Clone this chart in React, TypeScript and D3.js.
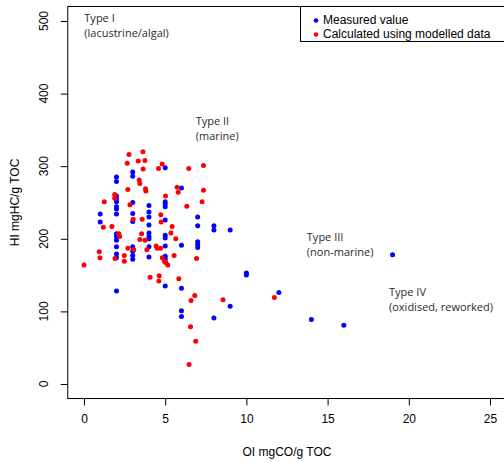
import React, { useEffect, useRef } from 'react';
import * as d3 from 'd3';

// Measured values: [OI, HI]
const measuredOI = [
  1, 1,
  2, 2, 2, 2, 2, 2, 2, 2, 2, 2, 2, 2, 2, 2, 2,
  3, 3, 3, 3, 3, 3, 3, 3, 3,
  4, 4, 4, 4, 4, 4, 4, 4, 4,
  5, 5, 5, 5, 5, 5, 5, 5, 5, 5, 5,
  6, 6, 6, 6, 6,
  7, 7, 7, 7, 7,
  8, 8, 8,
  9, 9,
  10, 10,
  12, 14, 16, 19,
];
const measuredHI = [
  234, 223,
  285, 279, 259, 255, 251, 244, 241, 234, 207, 203, 198, 189, 179, 174, 128,
  292, 286, 250, 235, 224, 189, 183, 177, 172,
  246, 237, 230, 219, 208, 203, 200, 189, 175,
  298, 251, 248, 244, 226, 205, 201, 190, 176, 172, 135,
  270, 191, 132, 101, 93,
  230, 218, 196, 192, 188,
  218, 212, 91,
  212, 107,
  153, 150,
  126, 89, 81, 178,
];

// Calculated using modelled data
const modelledOI = [
  2.77, 3.63, 2.66, 3.34, 3.75, 3.64, 4.81, 4.59, 6.45, 7.36,
  3.40, 3.44, 3.79, 3.81, 2.70, 5.73, 5.80, 7.36, 5.02, 1.89,
  1.89, 1.25, 7.27, 2.83, 6.33, 4.73, 3.03, 3.58, 4.75, 1.19,
  1.72, 5.43, 2.15, 2.19, 5.35, 5.65, 3.55, 3.44, 3.75, 4.44,
  4.51, 4.71, 2.70, 3.07, 3.87, 0.94, 0.98, 2.48, 1.91, 5.55,
  6.93, 2.48, 4.82, 4.95, 5.04, 5.16, 0.0, 4.07, 4.63, 4.61,
  5.84, 6.82, 6.59, 8.56, 11.72, 6.56, 6.88, 6.47, 10.02,
];
const modelledHI = [
  316, 320, 304, 307, 308, 296, 303, 297, 297, 301,
  281, 276, 269, 266, 268, 271, 264, 267, 259, 261,
  256, 251, 251, 247, 245, 233, 227, 227, 223, 216,
  217, 217, 207, 203, 208, 200, 207, 199, 198, 190,
  187, 187, 187, 185, 185, 182, 174, 177, 173, 177,
  173, 169, 174, 169, 167, 164, 164, 147, 149, 142,
  145, 122, 115, 116, 119, 79, 59, 27, -23,
];

const xTicks = [0, 5, 10, 15, 20, 25];
const yTicks = [0, 100, 200, 300, 400, 500];

const typeLabels = ['Type I', 'Type II', 'Type III', 'Type IV'];
const typeNotes = ['(lacustrine/algal)', '(marine)', '(non-marine)', '(oxidised, reworked)'];
const typeOI = [0.02, 6.88, 13.72, 18.78];
const typeHI = [498, 357, 197, 121];

const legendLabels = ['Measured value', 'Calculated using modelled data'];
const legendColors = ['#0000ff', '#ff0000'];

const W = 504;
const H = 462;
const FONT = 'Liberation Sans, Arial, sans-serif';

const App: React.FC = () => {
  const ref = useRef<SVGSVGElement | null>(null);

  useEffect(() => {
    const svg = d3.select(ref.current);
    svg.selectAll('*').remove();

    const x = d3.scaleLinear().domain([0, 25]).range([84, 490]);
    const y = d3.scaleLinear().domain([0, 500]).range([384, 21]);

    const left = x(-1);
    const right = x(26);
    const top = y(520);
    const bottom = y(-20);

    svg
      .append('defs')
      .append('clipPath')
      .attr('id', 'plotClip')
      .append('rect')
      .attr('x', left)
      .attr('y', top)
      .attr('width', right - left)
      .attr('height', bottom - top);

    // x axis
    const xAxis = svg.append('g').attr('transform', `translate(0,${bottom})`);
    xAxis
      .call(d3.axisBottom(x).tickValues(xTicks).tickSize(7).tickPadding(9).tickSizeOuter(0))
      .call((g) => g.select('.domain').remove());
    xAxis.selectAll('text').attr('font-size', 12).attr('font-family', FONT).attr('fill', '#000');

    // y axis, labels parallel to the axis
    const yAxis = svg.append('g').attr('transform', `translate(${left},0)`);
    yAxis
      .call(d3.axisLeft(y).tickValues(yTicks).tickSize(7).tickSizeOuter(0))
      .call((g) => g.select('.domain').remove())
      .call((g) => g.selectAll('text').remove());
    svg
      .append('g')
      .selectAll('text')
      .data(yTicks)
      .join('text')
      .attr('transform', (d) => `translate(48,${y(d)}) rotate(-90)`)
      .attr('text-anchor', 'middle')
      .attr('font-size', 12)
      .attr('font-family', FONT)
      .text((d) => d);

    // points
    const pts = svg.append('g').attr('clip-path', 'url(#plotClip)');
    pts
      .selectAll('circle.m')
      .data(measuredOI.map((v, i) => [v, measuredHI[i]]))
      .join('circle')
      .attr('class', 'm')
      .attr('cx', (d) => x(d[0]))
      .attr('cy', (d) => y(d[1]))
      .attr('r', 2.5)
      .attr('fill', '#0000ff');
    pts
      .selectAll('circle.c')
      .data(modelledOI.map((v, i) => [v, modelledHI[i]]))
      .join('circle')
      .attr('class', 'c')
      .attr('cx', (d) => x(d[0]))
      .attr('cy', (d) => y(d[1]))
      .attr('r', 2.5)
      .attr('fill', '#ff0000');

    // plot box
    svg
      .append('rect')
      .attr('x', left)
      .attr('y', top)
      .attr('width', right - left)
      .attr('height', bottom - top)
      .attr('fill', 'none')
      .attr('stroke', '#000')
      .attr('stroke-width', 1);

    // type annotations
    const ann = svg
      .append('g')
      .attr('font-family', 'Open Sans, Noto Sans, sans-serif')
      .attr('font-size', 11)
      .attr('fill', '#2b2b2b');
    typeLabels.forEach((t, i) => {
      ann.append('text').attr('x', x(typeOI[i])).attr('y', y(typeHI[i])).text(t);
      ann.append('text').attr('x', x(typeOI[i])).attr('y', y(typeHI[i]) + 15).text(typeNotes[i]);
    });

    // legend
    const lg = svg.append('g');
    lg.append('rect')
      .attr('x', 300.5)
      .attr('y', top)
      .attr('width', right - 300.5)
      .attr('height', 35)
      .attr('fill', '#fff')
      .attr('stroke', '#000');
    legendLabels.forEach((t, i) => {
      const cy = top + 14 + i * 14;
      lg.append('circle').attr('cx', 316).attr('cy', cy).attr('r', 2.3).attr('fill', legendColors[i]);
      lg.append('text')
        .attr('x', 323)
        .attr('y', cy + 4)
        .attr('font-size', 12)
        .attr('font-family', FONT)
        .text(t);
    });

    // axis titles
    svg
      .append('text')
      .attr('x', (left + right) / 2)
      .attr('y', 456)
      .attr('text-anchor', 'middle')
      .attr('font-size', 12)
      .attr('font-family', FONT)
      .text('OI mgCO/g TOC');
    svg
      .append('text')
      .attr('transform', `translate(19,${(top + bottom) / 2}) rotate(-90)`)
      .attr('text-anchor', 'middle')
      .attr('font-size', 12)
      .attr('font-family', FONT)
      .text('HI mgHC/g TOC');
  }, []);

  return (
    <svg
      ref={ref}
      width={W}
      height={H}
      style={{ position: 'absolute', left: 0, top: 0, background: '#fff' }}
    />
  );
};

export default App;
